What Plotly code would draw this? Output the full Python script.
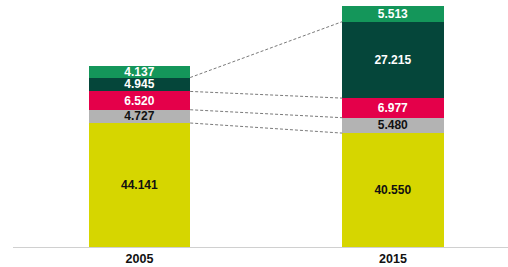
import plotly.graph_objects as go

years = ["2005", "2015"]
series_names = ["Yellow", "Grey", "Red", "Dark green", "Green"]
yellow = [44.141, 40.550]
grey = [4.727, 5.480]
red = [6.520, 6.977]
dark_green = [4.945, 27.215]
green = [4.137, 5.513]

series = [yellow, grey, red, dark_green, green]
colors = ["#d6d600", "#b3b3b3", "#e4004a", "#05463a", "#14965a"]
text_colors = ["#111111", "#111111", "white", "white", "white"]

xpos = [0, 1]
bar_w = 0.4

fig = go.Figure()
for name, vals, c, tc in zip(series_names, series, colors, text_colors):
    fig.add_trace(go.Bar(
        x=xpos, y=vals, name=name, width=bar_w,
        marker=dict(color=c, line=dict(width=0)),
        text=[f"{v:.3f}" for v in vals],
        textposition="inside", insidetextanchor="middle", textangle=0,
        textfont=dict(family="Liberation Sans", size=12, color=tc, weight="bold"),
        hoverinfo="skip", showlegend=False,
    ))

# dashed connectors between tops of the first four segments
cum = [0.0, 0.0]
for vals in series[:4]:
    cum = [cum[0] + vals[0], cum[1] + vals[1]]
    fig.add_trace(go.Scatter(
        x=[xpos[0] + bar_w / 2, xpos[1] - bar_w / 2], y=cum,
        mode="lines", line=dict(color="#7a7a7a", width=1, dash="3px,2px"),
        hoverinfo="skip", showlegend=False,
    ))

fig.update_layout(
    barmode="stack",
    width=508, height=267,
    margin=dict(l=13, r=0, t=6, b=20),
    paper_bgcolor="white", plot_bgcolor="white",
    uniformtext=dict(minsize=12, mode="show"),
    hovermode=False,
    xaxis=dict(
        range=[-0.499, 1.454], tickvals=xpos, ticktext=years,
        showline=True, linecolor="#d0d0d0", linewidth=1,
        showgrid=False, zeroline=False, ticks="",
        tickfont=dict(family="Liberation Sans", size=12.5, color="#111111", weight="bold"),
    ),
    yaxis=dict(range=[0, 85.8], visible=False, showgrid=False, zeroline=False),
)

fig.write_html(
    "out.html",
    config={"displayModeBar": False, "staticPlot": True},
    post_script="document.body.style.margin='0';document.body.style.overflow='hidden';",
)
